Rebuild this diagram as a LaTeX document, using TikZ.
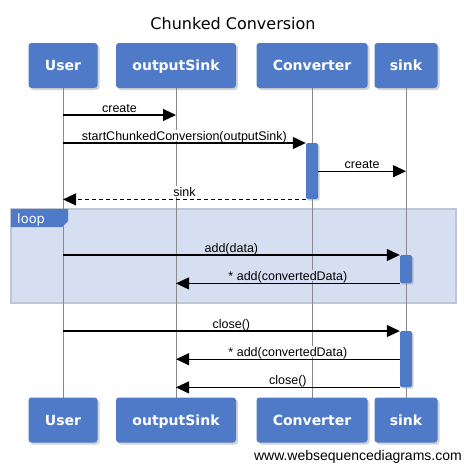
\documentclass[tikz,border=0pt]{standalone}
\usepackage{fontspec}
\setmainfont{Liberation Sans}
\newfontfamily\wsdfont{DejaVu Sans}
\usetikzlibrary{arrows.meta,shadows}
\definecolor{actorblue}{HTML}{4F7AC7}
\definecolor{loopfill}{HTML}{D6DFF2}
\definecolor{loopedge}{HTML}{BFC5D2}
\definecolor{lifegrey}{HTML}{8A8A8A}
\begin{document}
\begin{tikzpicture}[x=1pt, y=-1pt,
    actor/.style={fill=actorblue, rounded corners=3pt, minimum height=45pt,
      inner sep=0pt, text=white, text height=10.2pt, text depth=0pt,
      font=\wsdfont\bfseries\fontsize{14}{14}\selectfont,
      drop shadow={shadow xshift=2pt, shadow yshift=-2pt, opacity=0.35}},
    bar/.style={fill=actorblue, rounded corners=1.5pt, minimum width=12pt,
      inner sep=0pt, anchor=north,
      drop shadow={shadow xshift=1.5pt, shadow yshift=-1.5pt, opacity=0.35}},
    life/.style={draw=lifegrey, line width=1pt},
    msg/.style={line width=1.1pt, -{Triangle[length=13pt, width=12pt]}},
    reply/.style={msg, dash pattern=on 4pt off 3pt},
    lbl/.style={fill=white, inner sep=1pt, text depth=0pt, anchor=base,
      yshift=3pt, font=\fontsize{12.5}{12.5}\selectfont},
    lblin/.style={lbl, fill=loopfill}]
    \useasboundingbox (0,0) rectangle (465,464);
    \node[font=\wsdfont\fontsize{16}{16}\selectfont, anchor=base] (title) at (233,29)
      {Chunked Conversion};
    % loop frame
    \draw[loopedge, fill=loopfill, line width=1.5pt] (11,209) rectangle (456,303);
    % actors, top and bottom
    \foreach \n/\t/\x/\w in {u/User/63/69, o/outputSink/176/120,
        c/Converter/312/111, s/sink/406/63} {
      \draw[life] (\x,88) -- (\x,398);
      \node[actor, minimum width=\w pt] (\n T) at (\x,65.5) {\t};
      \node[actor, minimum width=\w pt] (\n B) at (\x,420) {\t};
    }
    \fill[actorblue] (11,209) -- (68,209) -- (68,221) -- (62,227) -- (11,227) -- cycle;
    \node[text=white, font=\wsdfont\fontsize{13}{13}\selectfont, anchor=base west,
      inner sep=0pt] (looplbl) at (17,223) {loop};
    % activations
    \node[bar, minimum height=56pt] (cbar) at (cT.south |- 0,143) {};
    \node[bar, minimum height=28pt] (sbarA) at (sT.south |- 0,255) {};
    \node[bar, minimum height=56pt] (sbarB) at (sT.south |- 0,331) {};
    \coordinate (mcreate) at (0,115);
    % messages
    \draw[msg] (uT |- mcreate) -- node[midway, lbl] {create} (oT |- mcreate);
    \draw[msg] (uT |- cbar.north west) -- node[midway, lbl]
      {startChunkedConversion(outputSink)} (cbar.north west);
    \draw[msg] (cbar.east) -- node[midway, lbl] {create} (sT |- cbar.east);
    \draw[reply] (cbar.south west) -- node[midway, lbl] {sink} (uT |- cbar.south west);
    \draw[msg] (uT |- sbarA.north west) -- node[midway, lblin] {add(data)}
      (sbarA.north west);
    \draw[msg] (sbarA.south west) -- node[midway, lblin] {* add(convertedData)}
      (oT |- sbarA.south west);
    \draw[msg] (uT |- sbarB.north west) -- node[midway, lbl] {close()}
      (sbarB.north west);
    \draw[msg] (sbarB.west) -- node[midway, lbl] {* add(convertedData)}
      (oT |- sbarB.west);
    \draw[msg] (sbarB.south west) -- node[midway, lbl] {close()}
      (oT |- sbarB.south west);
    \node[anchor=base east, inner sep=0pt, font=\fontsize{14}{14}\selectfont]
      (wsd) at (462,460) {www.websequencediagrams.com};
  \end{tikzpicture}
\end{document}
